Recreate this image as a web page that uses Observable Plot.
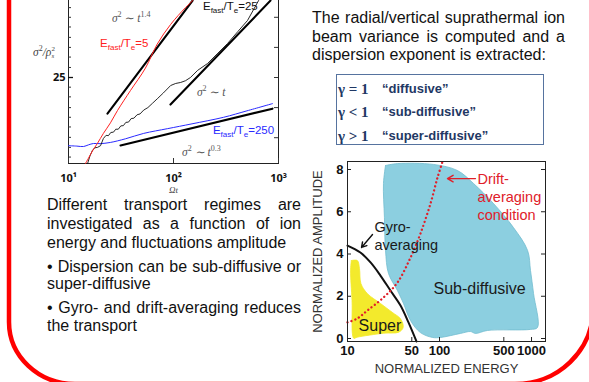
<!DOCTYPE html>
<html><head><meta charset="utf-8">
<script src="https://cdn.jsdelivr.net/npm/d3@7"></script>
<script src="https://cdn.jsdelivr.net/npm/@observablehq/plot@0.6"></script>
<style>
html,body{margin:0;padding:0;background:#fff;}
#page{position:relative;width:589px;height:382px;overflow:hidden;font-family:"Liberation Sans",Arial,sans-serif;color:#111;}
.abs{position:absolute;}
.ln{position:absolute;font-size:16px;line-height:18px;height:18px;}
.j{text-align:justify;text-align-last:justify;}
.lbl{position:absolute;white-space:nowrap;transform:translateY(-50%);font-size:11.5px;line-height:12px;}
.lbl sub{font-size:8px;vertical-align:-3px;line-height:0;}
.math{position:absolute;white-space:nowrap;transform:translateY(-50%);font-family:"Liberation Serif",serif;font-style:italic;font-size:11.5px;color:#555;line-height:12px;}
.math sup{font-size:8px;vertical-align:5px;line-height:0;font-style:normal;}
#box{position:absolute;left:336px;top:74px;width:206px;height:69px;border:1.5px solid #56739f;}
.row{position:absolute;left:0;height:20px;line-height:20px;color:#1f3864;font-weight:bold;white-space:nowrap;}
.row .g{position:absolute;left:1px;font-family:"Liberation Serif",serif;font-size:15px;}
.row .q{position:absolute;left:45px;font-size:13px;}
</style></head><body><div id="page">
<div id="leftPlot" class="abs" style="left:0;top:-30px;"></div>
<div id="rightPlot" class="abs" style="left:300px;top:150px;"></div>

<div class="ln j" style="left:312px;width:253px;top:9px;">The radial/vertical suprathermal ion</div>
<div class="ln j" style="left:312px;width:253px;top:28px;">beam variance is computed and a</div>
<div class="ln" style="left:312px;width:253px;top:46px;">dispersion exponent is extracted:</div>

<div id="box">
  <div class="row" style="top:4px;"><span class="g">γ = 1</span><span class="q">“diffusive”</span></div>
  <div class="row" style="top:27px;"><span class="g">γ &lt; 1</span><span class="q">“sub-diffusive”</span></div>
  <div class="row" style="top:51px;"><span class="g">γ &gt; 1</span><span class="q">“super-diffusive”</span></div>
</div>

<div class="ln j" style="left:47px;width:254px;top:196px;">Different transport regimes are</div>
<div class="ln j" style="left:47px;width:254px;top:215px;">investigated as a function of ion</div>
<div class="ln" style="left:47px;width:254px;top:234px;">energy and fluctuations amplitude</div>
<div class="ln j" style="left:47px;width:254px;top:258px;">• Dispersion can be sub-diffusive or</div>
<div class="ln" style="left:47px;width:254px;top:275px;">super-diffusive</div>
<div class="ln j" style="left:47px;width:254px;top:299px;">• Gyro- and drift-averaging reduces</div>
<div class="ln" style="left:47px;width:254px;top:317px;">the transport</div>

<div class="math" style="left:33px;top:53px;color:#444;">σ<sup>2</sup>/ρ<span style="display:inline-block;vertical-align:middle;line-height:7px;font-size:7px;font-style:normal;"><span style="display:block">2</span><span style="display:block;font-style:italic">s</span></span></div>

<svg class="abs" style="left:0;top:0;" width="589" height="382">
  <path d="M9,-10 V322 A66,62 0 0 0 75,384 H515 A78,75 0 0 0 593,309 V-10" fill="none" stroke="#ff0000" stroke-width="4.5"/>
</svg>
</div>
<script>
// ---------- Left chart: variance vs Omega t ----------
const xTicksL = [10, 100, 1000];
const xTickLabelsL = ["10¹", "10²", "10³"];
const yTicksLeftMinor = [4, 5, 6.3, 8, 10, 12.5, 16, 20, 25, 31.5, 40, 50, 63, 80, 100, 125, 160, 200];
const yTicksRight = [6.25, 12.5, 25, 50, 100, 200];
const yLabelTicks = [25];

const tE5 = [14.5, 15.5, 16.9, 18.9, 21.5, 25.1, 29.3, 38.9, 54, 70, 94, 130, 152, 180];
const sE5 = [3.45, 3.9, 4.6, 5.5, 6.9, 8.8, 11.7, 18.5, 31, 54, 85, 125, 147, 190];

const tE25 = [15.2, 16.0, 16.9, 17.8, 18.9, 20.2, 21.5, 22.8, 24.0, 25.3, 26.8, 28.2, 29.8, 31.5, 33.3, 35.2, 37.3, 39.5, 42, 45, 48, 52, 57, 63, 70, 80, 94, 105, 117, 130, 145, 170, 211, 260, 327, 410, 507, 646, 803];
const sE25 = [3.45, 4.1, 4.66, 4.95, 5.0, 5.2, 6.14, 6.6, 6.55, 7.05, 7.1, 7.6, 7.6, 8.2, 8.25, 8.9, 8.95, 9.7, 9.8, 10.6, 10.8, 11.8, 12.5, 13.8, 15.3, 17.5, 20.8, 21.8, 22.3, 23.2, 25, 29.5, 34.5, 43, 54.7, 72, 93, 147, 223];

const tE250 = [10, 12, 13.9, 15.5, 17.3, 20, 25, 35, 52, 88, 150, 300, 500, 877];
const sE250 = [5.2, 5.15, 5.1, 5.3, 5.47, 5.45, 5.6, 6.1, 6.9, 7.7, 8.6, 10, 11.6, 13.7];

const tFit14 = [23.5, 152];  const sFit14 = [10.9, 147];
const tFit1 = [93.6, 839];   const sFit1 = [13.4, 147];
const tFit03 = [31.3, 877];  const sFit03 = [5.22, 12.2];

// annotation anchors (data space)
const labelsLeft = [
  {t: 20.2, s: 54.7, html: "E<sub>fast</sub>/T<sub>e</sub>=5", color: "#ff2020", cls: "lbl"},
  {t: 193, s: 128, html: "E<sub>fast</sub>/T<sub>e</sub>=25", color: "#111", cls: "lbl"},
  {t: 240, s: 7.38, html: "E<sub>fast</sub>/T<sub>e</sub>=250", color: "#2a2aff", cls: "lbl"},
  {t: 26.2, s: 97.3, html: "σ<sup>2</sup> ∼ t<sup>1.4</sup>", color: "#555", cls: "math"},
  {t: 169, s: 17.7, html: "σ<sup>2</sup> ∼ t", color: "#555", cls: "math"},
  {t: 122, s: 4.45, html: "σ<sup>2</sup> ∼ t<sup>0.3</sup>", color: "#555", cls: "math"}
];

const zip = (a, b) => a.map((v, i) => ({x: v, y: b[i]}));

const LW = 300, LH = 230, LML = 68, LMR = 22, LMT = 10, LMB = 37;
const lpw = LW - LML - LMR, lph = LH - LMT - LMB;
const left = Plot.plot({
  width: LW, height: LH, marginLeft: LML, marginRight: LMR, marginTop: LMT, marginBottom: LMB,
  x: {type: "log", domain: [10, 1000], axis: null},
  y: {type: "log", domain: [3.45, 233.4], axis: null},
  style: {background: "transparent", overflow: "visible"},
  marks: [
    Plot.frame({stroke: "#222"}),
    Plot.tickY(yTicksLeftMinor, {y: d => d, insetRight: lpw - 3, stroke: "#333"}),
    Plot.tickY(yLabelTicks, {y: d => d, insetRight: lpw - 5, stroke: "#111", strokeWidth: 1.3}),
    Plot.tickY(yTicksRight, {y: d => d, insetLeft: lpw - 4, stroke: "#333"}),
    Plot.tickX(xTicksL, {x: d => d, insetTop: lph - 5, stroke: "#333"}),
    Plot.line(zip(tFit14, sFit14), {x: "x", y: "y", stroke: "#000", strokeWidth: 2.1}),
    Plot.line(zip(tFit1, sFit1), {x: "x", y: "y", stroke: "#000", strokeWidth: 2.1}),
    Plot.line(zip(tFit03, sFit03), {x: "x", y: "y", stroke: "#000", strokeWidth: 2.1}),
    Plot.line(zip(tE250, sE250), {x: "x", y: "y", stroke: "#2a2aff", strokeWidth: 1, curve: "catmull-rom"}),
    Plot.line(zip(tE25, sE25), {x: "x", y: "y", stroke: "#111", strokeWidth: 0.9}),
    Plot.line(zip(tE5, sE5), {x: "x", y: "y", stroke: "#ff2020", strokeWidth: 1, curve: "catmull-rom"}),
    Plot.text(xTicksL, {x: d => d, frameAnchor: "bottom", dy: 15, lineAnchor: "middle", text: (d, i) => xTickLabelsL[i], fontWeight: "bold", fontSize: 11, fill: "#111"}),
    Plot.text(yLabelTicks, {y: d => d, frameAnchor: "left", dx: -3, textAnchor: "end", text: d => String(d), fontWeight: "bold", fontSize: 11, fill: "#111"}),
    Plot.text(["Ωt"], {frameAnchor: "bottom", dy: 27, lineAnchor: "middle", textAnchor: "middle", text: d => d, fontFamily: "Liberation Serif", fontStyle: "italic", fontSize: 9, fill: "#444"})
  ]
});
document.getElementById("leftPlot").appendChild(left);

// ---------- Right chart: amplitude vs energy regimes ----------
const energyTicks = [10, 50, 100, 500, 1000];
const ampTicks = [0, 2, 4, 6, 8];

const subE = [25.9, 34.9, 86.1, 157, 234, 386, 637, 906, 975, 1052, 1161, 975, 332, 246, 217, 169, 102.5, 84, 62, 48.4, 40.6, 34.9, 27.9, 25.9, 25.2, 24.6, 25.9];
const subA = [8.19, 8.28, 8.24, 7.95, 7.34, 6.39, 5.25, 4.17, 3.22, 2.13, 0.52, 0.43, 0.38, 0.24, 0.33, 0.24, 0.05, 0.05, 0.28, 0.85, 1.66, 2.27, 3.08, 4.17, 5.73, 7.34, 8.19];

const supE = [11.0, 12.8, 13.5, 14.0, 16.4, 22.8, 30.6, 37.7, 40.3, 36.1, 24.8, 12.7, 11.7, 11.2, 10.8, 11.0];
const supA = [3.69, 3.69, 3.31, 2.60, 2.13, 1.66, 1.24, 0.93, 0.53, 0.30, 0.25, 0.06, 0.01, 1.8, 3.2, 3.69];

const gyroE = [10, 13.8, 17.8, 22.8, 29.3, 37.7, 46.0, 56.2];
const gyroA = [4.40, 4.07, 3.60, 2.98, 2.27, 1.56, 0.76, -0.14];

const driftE = [10, 12.8, 16.5, 24.6, 34.9, 48.4, 62.1, 79.8, 95.1, 108];
const driftA = [0.76, 0.95, 1.33, 1.94, 2.65, 3.83, 4.97, 6.39, 7.62, 8.38];

const regionLabels = [
  {e: 86.1, a: 2.41, text: "Sub-diffusive", fill: "#1a1a1a", size: 16},
  {e: 13.2, a: 0.66, text: "Super", fill: "#1a1a1a", size: 16},
  {e: 19.6, a: 4.88, text: "Gyro-\naveraging", fill: "#1a1a1a", size: 14.5},
  {e: 259, a: 6.72, text: "Drift-\naveraging\ncondition", fill: "#e0202a", size: 14.5}
];
const arrows = [
  {e1: 18.7, a1: 4.92, e2: 14.2, a2: 4.31, color: "#111"},
  {e1: 246, a1: 7.57, e2: 122, a2: 7.57, color: "#e0202a"}
];

const RW = 260, RH = 232, RML = 47, RMR = 15, RMT = 11, RMB = 41;
const rpw = RW - RML - RMR, rph = RH - RMT - RMB;
const right = Plot.plot({
  width: RW, height: RH, marginLeft: RML, marginRight: RMR, marginTop: RMT, marginBottom: RMB,
  x: {type: "log", domain: [10, 1419], axis: null},
  y: {domain: [-0.142, 8.379], axis: null},
  style: {background: "transparent", overflow: "visible", fontFamily: "Liberation Sans, Arial, sans-serif"},
  marks: [
    Plot.line(zip(subE, subA), {x: "x", y: "y", fill: "#8ccfe0", stroke: "#72bccf", strokeWidth: 0.8, curve: "catmull-rom"}),
    Plot.line(zip(supE, supA), {x: "x", y: "y", fill: "#f3ea2c", stroke: "#f3ea2c", strokeWidth: 0.8, curve: "catmull-rom"}),
    Plot.line(zip(gyroE, gyroA), {x: "x", y: "y", stroke: "#111", strokeWidth: 2, curve: "catmull-rom"}),
    Plot.line(zip(driftE, driftA), {x: "x", y: "y", stroke: "#e0202a", strokeWidth: 2.3, strokeDasharray: "0.1,4", strokeLinecap: "round", curve: "catmull-rom"}),
    Plot.frame({stroke: "#222"}),
    Plot.tickY(ampTicks, {y: d => d, insetRight: rpw - 4, stroke: "#222"}),
    Plot.tickY(ampTicks, {y: d => d, insetLeft: rpw - 4, stroke: "#222"}),
    Plot.tickX(energyTicks, {x: d => d, insetTop: rph - 4, stroke: "#222"}),
    Plot.text(regionLabels, {x: "e", y: "a", text: "text", fill: "fill", fontSize: d => d.size, textAnchor: "start", lineAnchor: "middle", lineHeight: 1.25}),
    Plot.arrow(arrows, {x1: "e1", y1: "a1", x2: "e2", y2: "a2", stroke: "color", strokeWidth: 1.4, headLength: 7}),
    Plot.text(ampTicks, {y: d => d, frameAnchor: "left", dx: -4, textAnchor: "end", lineAnchor: "middle", text: d => String(d), fontWeight: "bold", fontSize: 13, fill: "#111"}),
    Plot.text(energyTicks, {x: d => d, frameAnchor: "bottom", dy: 9, textAnchor: "middle", lineAnchor: "middle", text: d => String(d), fontWeight: "bold", fontSize: 13, fill: "#111"}),
    Plot.text(["NORMALIZED AMPLITUDE"], {frameAnchor: "left", dx: -30, rotate: -90, textAnchor: "middle", lineAnchor: "middle", text: d => d, fontSize: 13, fill: "#333"}),
    Plot.text(["NORMALIZED ENERGY"], {frameAnchor: "bottom", dy: 27, textAnchor: "middle", lineAnchor: "middle", text: d => d, fontSize: 13, fill: "#333"})
  ]
});
document.getElementById("rightPlot").appendChild(right);

// ---------- HTML labels positioned through the plot's scales ----------
function mk(s) {
  const f = s.type === "log" ? d3.scaleLog() : d3.scaleLinear();
  return f.domain(s.domain).range(s.range);
}
const fx = mk(left.scale("x")), fy = mk(left.scale("y"));
const page = document.getElementById("page");
labelsLeft.forEach(l => {
  const el = document.createElement("div");
  el.className = l.cls;
  el.style.color = l.color;
  el.innerHTML = l.html;
  el.style.left = fx(l.t) + "px";
  el.style.top = (fy(l.s) - 30) + "px";
  page.insertBefore(el, page.lastElementChild);
});
</script>
</body></html>
